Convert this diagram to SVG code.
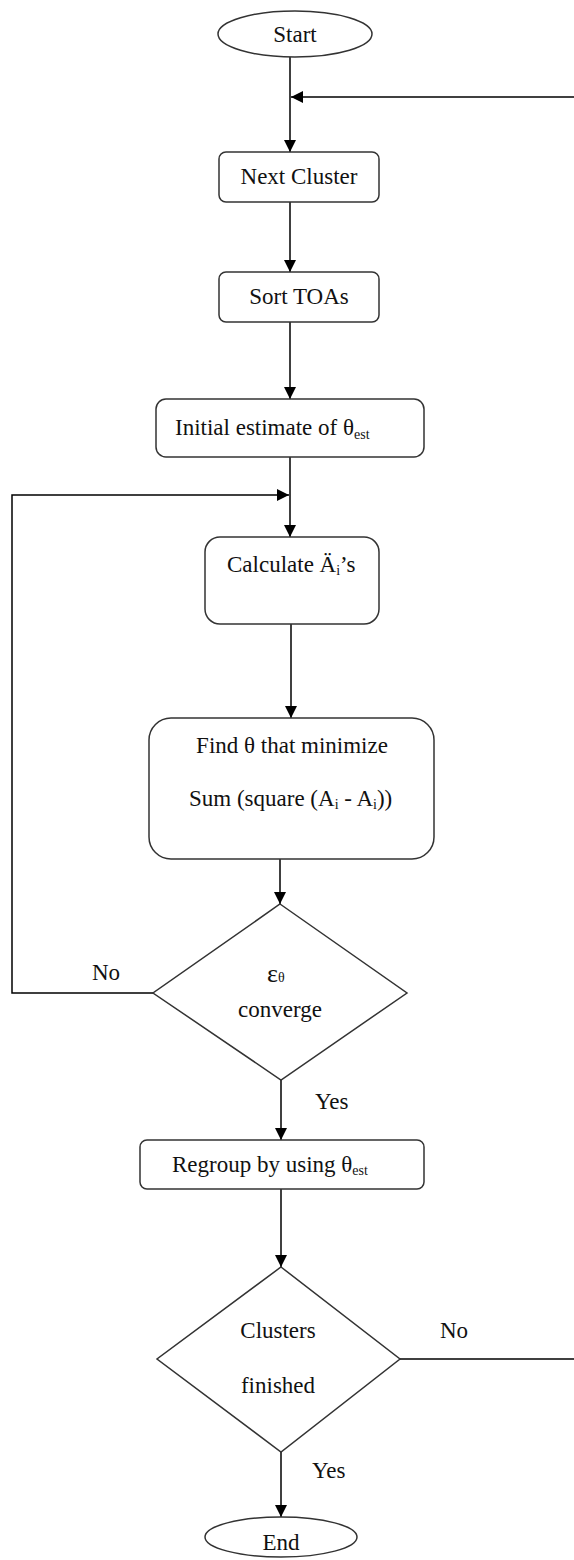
<svg xmlns="http://www.w3.org/2000/svg" width="574" height="1560" viewBox="0 0 574 1560">
  <style>
    .shape { fill: #ffffff; stroke: #333333; stroke-width: 1.5; }
    .edge { fill: none; stroke: #000000; stroke-width: 1.5; }
    .lbl { font-family: 'Liberation Serif', 'DejaVu Serif', serif; font-size: 23px; fill: #111111; }
    .mid { text-anchor: middle; }
    .sub { font-size: 14px; }
    .eps { font-size: 26px; }
  </style>
  <defs>
    <marker id="arrow" viewBox="0 0 12 12" refX="12" refY="6" markerWidth="12" markerHeight="12" markerUnits="userSpaceOnUse" orient="auto">
      <path d="M0,0 L12,6 L0,12 z" fill="#000000"/>
    </marker>
  </defs>
  <rect width="574" height="1560" fill="#ffffff"/>

  <!-- connectors -->
  <g id="connectors">
    <line class="edge" x1="290" y1="57" x2="290" y2="152" marker-end="url(#arrow)"/>
    <line class="edge" x1="574" y1="97" x2="291" y2="97" marker-end="url(#arrow)"/>
    <line class="edge" x1="290" y1="202" x2="290" y2="272" marker-end="url(#arrow)"/>
    <line class="edge" x1="290" y1="322" x2="290" y2="399" marker-end="url(#arrow)"/>
    <line class="edge" x1="290" y1="457" x2="290" y2="537" marker-end="url(#arrow)"/>
    <polyline class="edge" points="153,993 12,993 12,495 289,495" marker-end="url(#arrow)"/>
    <line class="edge" x1="291" y1="624" x2="291" y2="718" marker-end="url(#arrow)"/>
    <line class="edge" x1="280" y1="859" x2="280" y2="904" marker-end="url(#arrow)"/>
    <line class="edge" x1="281" y1="1074" x2="281" y2="1140" marker-end="url(#arrow)"/>
    <line class="edge" x1="281" y1="1189" x2="281" y2="1267" marker-end="url(#arrow)"/>
    <line class="edge" x1="281" y1="1452" x2="281" y2="1517" marker-end="url(#arrow)"/>
    <line class="edge" x1="400" y1="1359" x2="574" y2="1359"/>
    <text class="lbl" x="92" y="980">No</text>
    <text class="lbl" x="315" y="1109">Yes</text>
    <text class="lbl" x="440" y="1338">No</text>
    <text class="lbl" x="312" y="1478">Yes</text>
  </g>

  <g id="start">
    <ellipse class="shape" cx="295" cy="34" rx="77" ry="23"/>
    <text class="lbl mid" x="295" y="42">Start</text>
  </g>

  <g id="next-cluster">
    <rect class="shape" x="219" y="152" width="160" height="50" rx="7"/>
    <text class="lbl mid" x="299" y="184">Next Cluster</text>
  </g>

  <g id="sort-toas">
    <rect class="shape" x="219" y="272" width="160" height="50" rx="7"/>
    <text class="lbl mid" x="299" y="304">Sort TOAs</text>
  </g>

  <g id="initial-estimate">
    <rect class="shape" x="156" y="399" width="268" height="58" rx="10"/>
    <text class="lbl" x="175" y="435">Initial estimate of θ<tspan class="sub" dy="4">est</tspan></text>
  </g>

  <g id="calculate">
    <rect class="shape" x="205" y="537" width="174" height="87" rx="15"/>
    <text class="lbl" x="227" y="572">Calculate Ä<tspan class="sub" dy="3">i</tspan><tspan dy="-3">’s</tspan></text>
  </g>

  <g id="find-theta">
    <rect class="shape" x="149" y="718" width="285" height="141" rx="22"/>
    <text class="lbl mid" x="292" y="753">Find θ that minimize</text>
    <text class="lbl" x="189" y="806">Sum (square (A<tspan class="sub" dy="3">i</tspan><tspan dy="-3"> - A</tspan><tspan class="sub" dy="3">i</tspan><tspan dy="-3">))</tspan></text>
  </g>

  <g id="converge">
    <polygon class="shape" points="280,904 407,993 281,1080 153,993"/>
    <text class="lbl" x="267" y="982"><tspan class="eps">ε</tspan><tspan class="sub">θ</tspan></text>
    <text class="lbl mid" x="280" y="1017">converge</text>
  </g>

  <g id="regroup">
    <rect class="shape" x="140" y="1140" width="284" height="49" rx="7"/>
    <text class="lbl" x="172" y="1172">Regroup by using θ<tspan class="sub" dy="3">est</tspan></text>
  </g>

  <g id="clusters-finished">
    <polygon class="shape" points="281,1267 400,1359 281,1452 157,1359"/>
    <text class="lbl mid" x="278" y="1338">Clusters</text>
    <text class="lbl mid" x="278" y="1393">finished</text>
  </g>

  <g id="end">
    <ellipse class="shape" cx="281" cy="1537" rx="76" ry="20"/>
    <text class="lbl mid" x="281" y="1550">End</text>
  </g>
</svg>
